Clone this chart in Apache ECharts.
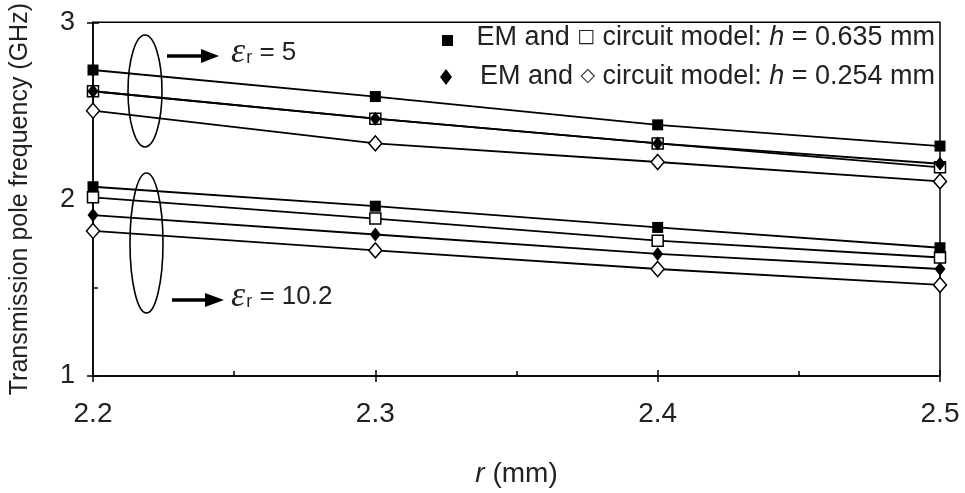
<!DOCTYPE html>
<html>
<head>
<meta charset="utf-8">
<script src="https://cdn.jsdelivr.net/npm/echarts@6/dist/echarts.min.js"></script>
<style>html,body{margin:0;padding:0;background:#fff}#c{width:965px;height:493px}</style>
</head>
<body>
<div id="c"></div>
<script>
// ---- data ----
var rValues = [2.2, 2.3, 2.4, 2.5];
var er5EM0635 = [2.73, 2.58, 2.42, 2.30];
var er5CM0635 = [2.61, 2.455, 2.315, 2.18];
var er5EM0254 = [2.61, 2.455, 2.315, 2.20];
var er5CM0254 = [2.50, 2.315, 2.21, 2.10];
var er10EM0635 = [2.07, 1.96, 1.84, 1.725];
var er10CM0635 = [2.01, 1.89, 1.765, 1.67];
var er10EM0254 = [1.91, 1.80, 1.69, 1.605];
var er10CM0254 = [1.82, 1.71, 1.605, 1.515];
var xTicks = ['2.2', '2.3', '2.4', '2.5'];
var yTicks = ['1', '2', '3'];

var FONT = "'Liberation Sans', Arial, sans-serif";
function pairs(ys) { return rValues.map(function (x, i) { return [x, ys[i]]; }); }

var filledSq = { symbol: 'rect', symbolSize: 11, itemStyle: { color: '#000' } };
var openSq = { symbol: 'rect', symbolSize: 11, itemStyle: { color: '#fff', borderColor: '#000', borderWidth: 1.5 } };
var filledDia = { symbol: 'diamond', symbolSize: [11, 14], itemStyle: { color: '#000' } };
var openDia = { symbol: 'diamond', symbolSize: [13, 15], itemStyle: { color: '#fff', borderColor: '#000', borderWidth: 1.5 } };

function mk(name, ys, st) {
  return {
    type: 'line', name: name, data: pairs(ys), symbol: st.symbol, symbolSize: st.symbolSize,
    showAllSymbol: true, itemStyle: st.itemStyle,
    lineStyle: { color: '#000', width: 1.8 }, animation: false
  };
}

var chart = echarts.init(document.getElementById('c'), null, { renderer: 'canvas' });
var option = {
  backgroundColor: '#fff',
  animation: false,
  grid: { left: 93, right: 25, top: 19, bottom: 117, show: true, borderColor: '#000', borderWidth: 1.5, backgroundColor: 'transparent' },
  xAxis: [{
    type: 'value', min: 2.2, max: 2.5, interval: 0.1,
    axisLine: { lineStyle: { color: '#000', width: 1.5 } },
    axisTick: { length: 6, lineStyle: { color: '#000', width: 1.5 } },
    axisLabel: { fontSize: 28, fontFamily: FONT, color: '#222', margin: 24,
      formatter: function (v) { var i = Math.round((v - 2.2) * 10); return xTicks[i] || ''; } },
    splitLine: { show: false },
    name: '{i|r} (mm)', nameLocation: 'middle', nameGap: 84,
    nameTextStyle: { fontSize: 28, fontFamily: FONT, color: '#222', rich: { i: { fontSize: 28, fontFamily: FONT, fontStyle: 'italic', color: '#222' } } }
  }, {
    type: 'value', min: 2.2, max: 2.5, interval: 0.1, position: 'bottom',
    axisLine: { show: false },
    axisTick: { inside: true, length: 6, lineStyle: { color: '#000', width: 1.5 } },
    minorTick: { show: true, splitNumber: 2, length: 5, lineStyle: { color: '#000', width: 1.5 } },
    axisLabel: { show: false }, splitLine: { show: false }, minorSplitLine: { show: false }
  }],
  yAxis: [{
    type: 'value', min: 1, max: 3, interval: 1,
    axisLine: { lineStyle: { color: '#000', width: 1.5 } },
    axisTick: { length: 6, lineStyle: { color: '#000', width: 1.5 } },
    axisLabel: { fontSize: 27, fontFamily: FONT, color: '#222', margin: 18,
      formatter: function (v) { return yTicks[Math.round(v - 1)] || ''; } },
    splitLine: { show: false },
    name: 'Transmission pole frequency (GHz)', nameLocation: 'middle', nameGap: 60,
    nameTextStyle: { fontSize: 25, fontFamily: FONT, color: '#222' }
  }, {
    type: 'value', min: 1, max: 3, interval: 1, position: 'left',
    axisLine: { show: false },
    axisTick: { inside: true, length: 6, lineStyle: { color: '#000', width: 1.5 } },
    minorTick: { show: true, splitNumber: 2, length: 5, lineStyle: { color: '#000', width: 1.5 } },
    axisLabel: { show: false }, splitLine: { show: false }, minorSplitLine: { show: false }
  }],
  series: [
    mk('er5 circuit 0.254', er5CM0254, openDia),
    mk('er5 circuit 0.635', er5CM0635, openSq),
    mk('er5 EM 0.254', er5EM0254, filledDia),
    mk('er5 EM 0.635', er5EM0635, filledSq),
    mk('er10 circuit 0.254', er10CM0254, openDia),
    mk('er10 EM 0.254', er10EM0254, filledDia),
    mk('er10 circuit 0.635', er10CM0635, openSq),
    mk('er10 EM 0.635', er10EM0635, filledSq)
  ],
  graphic: [
    // legend
    { type: 'rect', left: 442, top: 35, shape: { width: 11, height: 11 }, style: { fill: '#000' }, z: 10 },
    { type: 'text', right: 30, top: 24, z: 10,
      style: { text: 'EM and {sq|□} circuit model: {i|h} = 0.635 mm', font: '27px ' + FONT, fill: '#222',
        rich: { sq: { font: '19px "DejaVu Sans"', fill: '#222' }, i: { font: 'italic 27px ' + FONT, fill: '#222' } } } },
    { type: 'polygon', shape: { points: [[446, 69], [452, 77], [446, 85], [440, 77]] }, style: { fill: '#000' }, z: 10 },
    { type: 'text', right: 30, top: 63, z: 10,
      style: { text: 'EM and {sq|◇} circuit model: {i|h} = 0.254 mm', font: '27px ' + FONT, fill: '#222',
        rich: { sq: { font: '19px "DejaVu Sans"', fill: '#222' }, i: { font: 'italic 27px ' + FONT, fill: '#222' } } } },
    // ellipses
    { type: 'ellipse', shape: { cx: 145, cy: 91, rx: 17, ry: 56 }, style: { fill: 'none', stroke: '#000', lineWidth: 1.6 }, z: 10 },
    { type: 'ellipse', shape: { cx: 146.5, cy: 243, rx: 16.5, ry: 70 }, style: { fill: 'none', stroke: '#000', lineWidth: 1.6 }, z: 10 },
    // arrows
    { type: 'line', shape: { x1: 167, y1: 56, x2: 206, y2: 56 }, style: { stroke: '#000', lineWidth: 3.5 }, z: 10 },
    { type: 'polygon', shape: { points: [[201, 49], [219, 56], [201, 63]] }, style: { fill: '#000' }, z: 10 },
    { type: 'line', shape: { x1: 172, y1: 300, x2: 210, y2: 300 }, style: { stroke: '#000', lineWidth: 3.5 }, z: 10 },
    { type: 'polygon', shape: { points: [[205, 293], [224, 300], [205, 307]] }, style: { fill: '#000' }, z: 10 },
    // epsilon labels
    { type: 'text', left: 231, top: 35, z: 10,
      style: { text: '{e|ε}{s|r} = 5', font: '26px ' + FONT, fill: '#222',
        rich: { e: { font: 'italic 36px "Liberation Serif", serif', fill: '#222' },
                s: { font: '18px ' + FONT, fill: '#222', padding: [10, 0, 0, 1] } } } },
    { type: 'text', left: 231, top: 279, z: 10,
      style: { text: '{e|ε}{s|r} = 10.2', font: '26px ' + FONT, fill: '#222',
        rich: { e: { font: 'italic 36px "Liberation Serif", serif', fill: '#222' },
                s: { font: '18px ' + FONT, fill: '#222', padding: [10, 0, 0, 1] } } } }
  ]
};
chart.setOption(option);
</script>
</body>
</html>
